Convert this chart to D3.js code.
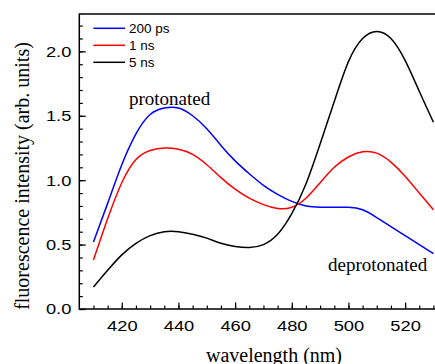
<!DOCTYPE html>
<html>
<head>
<meta charset="utf-8">
<script src="https://cdn.jsdelivr.net/npm/d3@7"></script>
<style>
  html, body { margin: 0; padding: 0; background: #fff; }
  svg { display: block; }
  .tick text { font-family: "Liberation Sans", Arial, sans-serif; font-size: 15.5px; fill: #000; }
  .serif { font-family: "Liberation Serif", "Times New Roman", serif; fill: #000; }
</style>
</head>
<body>
<svg id="chart" width="435" height="364"></svg>
<script>
// wavelength samples (nm)
const wavelengths = [410, 415, 420, 425, 430, 435, 440, 445, 450, 455, 460, 465, 470,
                     475, 480, 485, 490, 495, 500, 505, 510, 515, 520, 525, 530];
// fluorescence intensity
const ps200 = [0.52, 0.82, 1.12, 1.36, 1.51, 1.56, 1.56, 1.50, 1.40, 1.27, 1.15, 1.05, 0.96,
               0.89, 0.835, 0.80, 0.79, 0.79, 0.79, 0.77, 0.71, 0.64, 0.57, 0.50, 0.43];
const ns1 = [0.38, 0.70, 0.98, 1.16, 1.23, 1.25, 1.24, 1.20, 1.12, 1.02, 0.93, 0.86, 0.81,
             0.78, 0.79, 0.86, 0.98, 1.10, 1.18, 1.22, 1.21, 1.14, 1.03, 0.90, 0.77];
const ns5 = [0.17, 0.30, 0.42, 0.51, 0.57, 0.60, 0.60, 0.58, 0.55, 0.51, 0.485, 0.477, 0.50,
             0.58, 0.74, 0.97, 1.28, 1.61, 1.92, 2.10, 2.155, 2.10, 1.93, 1.69, 1.45];

const seriesNames = ["200 ps", "1 ns", "5 ns"];
const seriesColors = ["#0000ff", "#ff0000", "#000000"];
const seriesValues = [ps200, ns1, ns5];

const xMajor = [420, 440, 460, 480, 500, 520];
const yMajor = [0, 0.5, 1.0, 1.5, 2.0];

const svg = d3.select("#chart");
const W = 435, H = 364;
const mLeft = 79.3, mTop = 14, mBottom = 309;
const stretch = 1.18; // tick labels are drawn a bit wide in the original

const x = d3.scaleLinear().domain([405, 535]).range([mLeft, 447.6]);
const y = d3.scaleLinear().domain([0, 2.29]).range([mBottom, mTop]);

svg.append("rect").attr("width", W).attr("height", H).attr("fill", "#fff");

svg.append("clipPath").attr("id", "clip")
  .append("rect").attr("x", mLeft).attr("y", mTop).attr("width", W - mLeft).attr("height", mBottom - mTop);

// curves
const line = d3.line().x(d => x(d[0])).y(d => y(d[1])).curve(d3.curveNatural);
seriesValues.forEach((vals, i) => {
  svg.append("path")
    .datum(wavelengths.map((w, j) => [w, vals[j]]))
    .attr("clip-path", "url(#clip)")
    .attr("fill", "none")
    .attr("stroke", seriesColors[i])
    .attr("stroke-width", 1.5)
    .attr("d", line);
});

// axes (ticks point inward)
const gx = svg.append("g").attr("transform", `translate(0,${mBottom})`)
  .call(d3.axisBottom(x).tickValues(d3.range(410, 531, 5)).tickSize(-3.5).tickFormat(""));
gx.select(".domain").remove();
const gxMaj = svg.append("g").attr("transform", `translate(0,${mBottom})`)
  .call(d3.axisBottom(x).tickValues(xMajor).tickSize(-6.5).tickPadding(10.5).tickFormat(d3.format("d")));
gxMaj.select(".domain").remove();
gxMaj.selectAll(".tick text").attr("transform", `scale(${stretch},1)`);

const gy = svg.append("g").attr("transform", `translate(${mLeft},0)`)
  .call(d3.axisLeft(y).tickValues(d3.range(0, 23).map(d => d / 10)).tickSize(-3.5).tickFormat(""));
gy.select(".domain").remove();
const gyMaj = svg.append("g").attr("transform", `translate(${mLeft},0)`)
  .call(d3.axisLeft(y).tickValues(yMajor).tickSize(-6.5).tickPadding(8).tickFormat(d3.format(".1f")));
gyMaj.select(".domain").remove();
gyMaj.selectAll(".tick text").attr("x", -8 / stretch).attr("transform", `scale(${stretch},1)`);

svg.selectAll(".tick line").attr("stroke", "#000").attr("stroke-width", 1.2);

// frame: left, bottom, top
svg.append("path")
  .attr("d", `M${W},${mTop}H${mLeft}V${mBottom}H${W}`)
  .attr("fill", "none").attr("stroke", "#000").attr("stroke-width", 1.5);

// legend
const legend = svg.append("g");
seriesNames.forEach((name, i) => {
  const ly = 28.3 + i * 17;
  legend.append("line").attr("x1", 93.3).attr("x2", 125).attr("y1", ly).attr("y2", ly)
    .attr("stroke", seriesColors[i]).attr("stroke-width", 1.5);
  legend.append("text").attr("x", 129).attr("y", ly + 5)
    .attr("font-family", "Liberation Sans, Arial, sans-serif").attr("font-size", 13.5)
    .text(name);
});

// annotations
svg.append("text").attr("class", "serif").attr("x", 129).attr("y", 104.5)
  .attr("font-size", 19).text("protonated");
svg.append("text").attr("class", "serif").attr("x", 328).attr("y", 270.7)
  .attr("font-size", 19).text("deprotonated");

// axis titles
svg.append("text").attr("class", "serif").attr("text-anchor", "middle")
  .attr("x", 274).attr("y", 361.5).attr("font-size", 20).text("wavelength (nm)");
svg.append("text").attr("class", "serif").attr("text-anchor", "middle")
  .attr("transform", "translate(29,176) rotate(-90)")
  .attr("font-size", 20).text("fluorescence intensity (arb. units)");
</script>
</body>
</html>
